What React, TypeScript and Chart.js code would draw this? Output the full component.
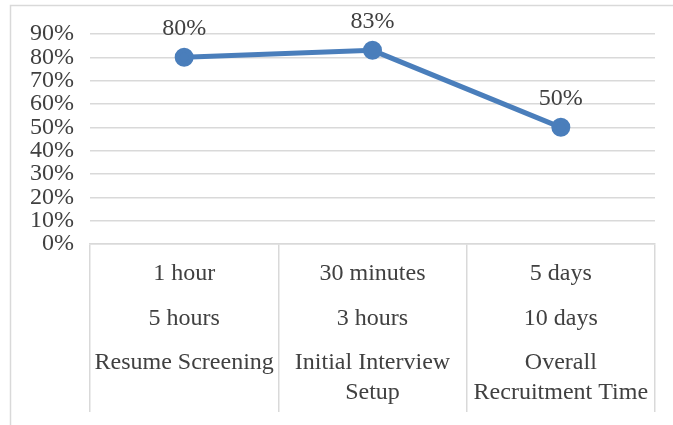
import React, { useEffect, useRef } from "react";
import { Chart, registerables } from "chart.js";

Chart.register(...registerables);

const categories = ["Resume Screening", "Initial Interview Setup", "Overall Recruitment Time"];
const rowOne = ["1 hour", "30 minutes", "5 days"];
const rowTwo = ["5 hours", "3 hours", "10 days"];
const nameLines = [["Resume Screening"], ["Initial Interview", "Setup"], ["Overall", "Recruitment Time"]];
const values = [80, 83, 50];
const valueLabels = ["80%", "83%", "50%"];

const TEXT = "#404040";
const FONT = "'Liberation Serif', 'Times New Roman', serif";

export default function App() {
  const ref = useRef<HTMLCanvasElement | null>(null);

  useEffect(() => {
    if (!ref.current) return;
    const framePlugin = {
      id: "frame",
      beforeDraw(chart: any) {
        const ctx = chart.ctx;
        ctx.save();
        ctx.fillStyle = "#ffffff";
        ctx.fillRect(0, 0, chart.width, chart.height);
        ctx.strokeStyle = "#d9d9d9";
        ctx.lineWidth = 1.5;
        ctx.strokeRect(10.5, 5.5, 800, 600);
        ctx.restore();
      },
    };
    const tablePlugin = {
      id: "table",
      afterDraw(chart: any) {
        const ctx = chart.ctx;
        const x = chart.scales.x;
        const bottom = chart.chartArea.bottom;
        ctx.save();
        ctx.fillStyle = TEXT;
        ctx.font = `24px ${FONT}`;
        ctx.textAlign = "center";
        ctx.textBaseline = "middle";
        categories.forEach((_, i) => {
          const cx = x.getPixelForValue(i);
          ctx.fillText(rowOne[i], cx, bottom + 30);
          ctx.fillText(rowTwo[i], cx, bottom + 75);
          nameLines[i].forEach((ln, j) => {
            ctx.fillText(ln, cx, bottom + 119 + j * 30);
          });
        });
        const meta = chart.getDatasetMeta(0);
        ctx.font = `24px ${FONT}`;
        meta.data.forEach((pt: any, i: number) => {
          ctx.fillText(valueLabels[i], pt.x, pt.y - 29);
        });
        ctx.restore();
      },
    };

    const chart = new Chart(ref.current, {
      type: "line",
      data: {
        labels: categories,
        datasets: [
          {
            data: values,
            borderColor: "#4A7EBB",
            backgroundColor: "#4A7EBB",
            borderWidth: 5,
            pointRadius: 7,
            pointHoverRadius: 7,
            pointBackgroundColor: "#4A7EBB",
            pointBorderColor: "#4A7EBB",
            tension: 0,
          },
        ],
      },
      options: {
        responsive: false,
        animation: false,
        layout: { padding: { top: 34, right: 18, bottom: 13, left: 0 } },
        plugins: { legend: { display: false }, tooltip: { enabled: false } },
        scales: {
          x: {
            offset: true,
            grid: {
              offset: true,
              drawOnChartArea: false,
              drawTicks: true,
              tickLength: 168,
              color: "#d9d9d9",
              lineWidth: 1.5,
            },
            border: { display: true, color: "#d9d9d9", width: 1.5 },
            ticks: { display: false },
            afterFit(scale: any) {
              scale.height = 168;
            },
          },
          y: {
            min: 0,
            max: 90,
            ticks: {
              stepSize: 10,
              autoSkip: false,
              padding: 16,
              color: TEXT,
              font: { family: FONT, size: 24, lineHeight: 1 },
              callback: (v: any) => `${v}%`,
            },
            grid: { color: "#d9d9d9", lineWidth: 1.5, drawTicks: false },
            border: { display: false },
            afterFit(scale: any) {
              scale.width = 90;
            },
          },
        },
      },
      plugins: [framePlugin, tablePlugin],
    });
    return () => chart.destroy();
  }, []);

  return (
    <div style={{ position: "fixed", left: 0, top: 0, width: 673, height: 425 }}>
      <canvas ref={ref} width={673} height={425} />
    </div>
  );
}
